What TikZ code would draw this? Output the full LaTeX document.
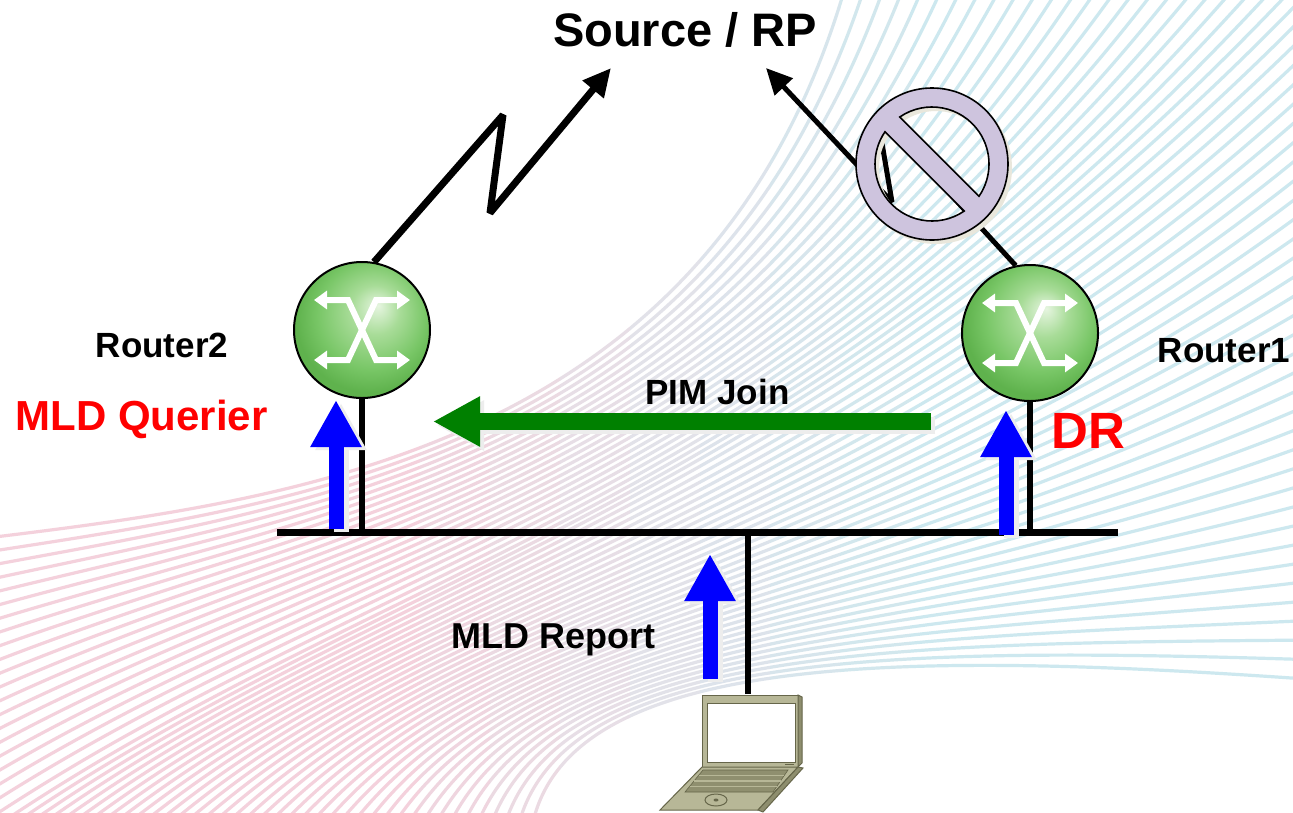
\documentclass[tikz,border=0pt]{standalone}
\usepackage{fontspec}
\setmainfont{Liberation Sans}
\usetikzlibrary{arrows.meta,calc}

\definecolor{bgpink}{HTML}{F4D1DC}
\definecolor{bggrey}{HTML}{E2E2E9}
\definecolor{bgblue}{HTML}{CDE8EF}
\definecolor{rtrhi}{HTML}{E6F5E0}
\definecolor{rtrmid}{HTML}{A8DC98}
\definecolor{rtrbase}{HTML}{78C666}
\definecolor{rtredge}{HTML}{5FB24D}
\definecolor{nolav}{HTML}{CEC4DE}
\definecolor{noshadow}{HTML}{E9E7DC}
\definecolor{joingreen}{HTML}{008000}
\definecolor{rptblue}{HTML}{0000FF}
\definecolor{lapbody}{HTML}{B7B797}
\definecolor{lapedge}{HTML}{66664A}
\definecolor{lapdark}{HTML}{8E8E6E}
\definecolor{lapkeys}{HTML}{8F8F6F}

\pgfdeclareradialshading{routerball}{\pgfpoint{6bp}{9bp}}{%
  color(0bp)=(rtrhi); color(9bp)=(rtrmid); color(20bp)=(rtrbase);
  color(27bp)=(rtredge); color(50bp)=(rtredge)}

\tikzset{
  lbl/.style={font=\bfseries\fontsize{35}{40}\selectfont, inner sep=0pt, anchor=base},
  router/.style={circle, minimum size=136pt, inner sep=0pt, draw=black,
    line width=2pt, shading=routerball},
  link/.style={line width=6pt, black},
  serial/.style={line width=7pt, line join=bevel, black},
  bgline/.style={line width=3.2pt},
  pics/swx/.style={code={
    \draw[line width=6pt, white, line join=miter,
      {Triangle[length=13pt,width=18pt]}-{Triangle[length=13pt,width=18pt]}]
      (-48,-30) -- (-14,-30) -- (14,30) -- (48,30);
    \draw[line width=6pt, white, line join=miter,
      {Triangle[length=13pt,width=18pt]}-{Triangle[length=13pt,width=18pt]}]
      (48,-30) -- (14,-30) -- (-14,30) -- (-48,30);
  }},
  msgup/.style={line width=15pt, rptblue, -{Triangle[length=47pt,width=48pt]}},
  msgshadow/.style={line width=15pt, black!7, -{Triangle[length=47pt,width=48pt]}},
}

\begin{document}
\begin{tikzpicture}[x=1pt,y=-1pt]
\useasboundingbox (0,0) rectangle (1293,812);
\fill[white] (0,0) rectangle (1293,812);

% decorative swoosh of thin curves, pink on the left turning blue on the right
\begin{scope}
  \clip (0,0) rectangle (1293,812);
  \foreach \xa/\xb/\bgc in {-10/420/bgpink, 420/490/bgpink!75!bggrey,
      490/560/bgpink!50!bggrey, 560/630/bgpink!25!bggrey, 630/700/bggrey,
      700/770/bggrey!75!bgblue, 770/840/bggrey!50!bgblue,
      840/910/bggrey!25!bgblue, 910/1300/bgblue} {
    \begin{scope}
      \clip (\xa,-10) rectangle (\xb,830);
      \foreach \i in {0,...,59} {
        \pgfmathsetmacro{\s}{\i/59}
        \pgfmathsetmacro{\u}{\s*860}
        \pgfmathsetmacro{\ax}{\u<300 ? -30 : -30+\u-300}
        \pgfmathsetmacro{\ay}{\u<300 ? 540+\u : 840}
        \pgfmathsetmacro{\v}{\s*1180}
        \pgfmathsetmacro{\dx}{\v<470 ? 850+\v : 1320}
        \pgfmathsetmacro{\dy}{\v<470 ? -30 : -30+\v-470}
        \pgfmathsetmacro{\bx}{300+250*\s}
        \pgfmathsetmacro{\by}{500+150*\s}
        \pgfmathsetmacro{\cx}{720+180*\s}
        \pgfmathsetmacro{\cy}{450+200*\s}
        \draw[bgline, \bgc] (\ax,\ay) .. controls (\bx,\by) and (\cx,\cy) .. (\dx,\dy);
      }
    \end{scope}
  }
\end{scope}

% routers
\node[router] (r2) at (362,330) {};
\node[router] (r1) at (1030,333) {};
\pic at (r2) {swx};
\pic at (r1) {swx};

% points of the two serial links towards the source
\coordinate (za) at (503,115);
\coordinate (zb) at (490,213);
\coordinate (srcL) at (611,68);
\coordinate (zc) at (877,114);
\coordinate (zd) at (892,202);
\coordinate (srcR) at (766,68);

\draw[serial, -{Triangle[length=28pt,width=26pt]}] (r2.80) -- (za) -- (zb) -- (srcL);
\draw[line width=5pt, line join=bevel, -{Triangle[length=26pt,width=24pt]}]
  (r1.102) -- (zc) -- (zd) -- (srcR);

% blocked-link sign
\begin{scope}[shift={(936,168)}]
  \fill[noshadow, even odd rule] (0,0) circle[radius=76]
    (55.6:57) arc[start angle=55.6, end angle=214.4, radius=57] -- cycle
    (235.6:57) arc[start angle=235.6, end angle=394.4, radius=57] -- cycle;
\end{scope}
\begin{scope}[shift={(932,164)}]
  \filldraw[fill=nolav, draw=black, line width=1.6pt, even odd rule] (0,0) circle[radius=76]
    (55.6:57) arc[start angle=55.6, end angle=214.4, radius=57] -- cycle
    (235.6:57) arc[start angle=235.6, end angle=394.4, radius=57] -- cycle;
\end{scope}

% shared LAN segment and attachments
\coordinate (busL) at (277,532);
\coordinate (busR) at (1118,532);
\coordinate (lap) at (748,694);
\draw[line width=7pt] (busL) -- (busR);
\draw[link] (r2.south) -- (r2.south |- busL);
\draw[link] (r1.south) -- (r1.south |- busL);
\draw[link] (lap) -- (lap |- busL);

% laptop host
\filldraw[fill=lapbody, draw=lapedge, line width=1pt] (702,695) rectangle (798,767);
\filldraw[fill=lapdark, draw=lapedge, line width=1pt] (798,695) -- (802,697) -- (802,763) -- (798,767) -- cycle;
\filldraw[fill=white, draw=lapedge, line width=0.8pt] (707,703) rectangle (795,762);
\draw[lapedge, line width=1.2pt] (785,764.5) -- (794,764.5);
\filldraw[fill=lapbody, draw=lapedge, line width=1pt] (702,767) -- (798,767) -- (758,810) -- (660,810) -- cycle;
\filldraw[fill=lapdark, draw=lapedge, line width=1pt] (798,767) -- (803,768) -- (763,812) -- (758,810) -- cycle;
\filldraw[fill=lapkeys, draw=lapedge, line width=0.6pt] (703,770) -- (788,770) -- (773,792) -- (685,792) -- cycle;
\foreach \yy in {775.5,781,786.5}
  \draw[lapbody, line width=1.2pt] ({703-(\yy-770)*18/22},\yy) -- ({788-(\yy-770)*15/22},\yy);
\draw[lapedge, line width=1pt] (716,800) ellipse[x radius=11, y radius=6];
\fill[lapedge] (716,800) ellipse[x radius=2.5, y radius=1.5];

% message arrows
\coordinate (pimS) at (931,421.5);
\coordinate (pimE) at (433,421.5);
\draw[line width=17pt, black!7, -{Triangle[length=47pt,width=47pt]}] ($(pimS)+(4,4)$) -- ($(pimE)+(4,4)$);
\draw[line width=17pt, joingreen, -{Triangle[length=47pt,width=47pt]}] (pimS) -- (pimE);

\coordinate (upA0) at (336,529);
\coordinate (upA1) at (336,400);
\coordinate (upB0) at (1006,535);
\coordinate (upB1) at (1006,410);
\coordinate (upC0) at (710,679);
\coordinate (upC1) at (710,554);
\draw[msgshadow] ($(upA0)+(5,3)$) -- ($(upA1)+(5,3)$);
\draw[msgshadow] ($(upB0)+(5,3)$) -- ($(upB1)+(5,3)$);
\draw[msgshadow] ($(upC0)+(5,3)$) -- ($(upC1)+(5,3)$);
\draw[msgup] (upA0) -- (upA1);
\draw[msgup] (upB0) -- (upB1);
\draw[msgup] (upC0) -- (upC1);

% labels
\node[lbl, font=\bfseries\fontsize{47}{56}\selectfont] (src) at (685,46) {Source / RP};
\node[lbl] (r2name) at (162,357) {Router2};
\node[lbl, text=red, font=\bfseries\fontsize{42}{48}\selectfont] (querier) at (141.5,430) {MLD Querier};
\node[lbl] (r1name) at (1224,362) {Router1};
\node[lbl, text=red, font=\bfseries\fontsize{51}{58}\selectfont] (drname) at (1088.5,448) {DR};
\node[lbl] (pim) at (717.5,404) {PIM Join};
\node[lbl, font=\bfseries\fontsize{36}{42}\selectfont] (report) at (553.5,648) {MLD Report};
\end{tikzpicture}
\end{document}
